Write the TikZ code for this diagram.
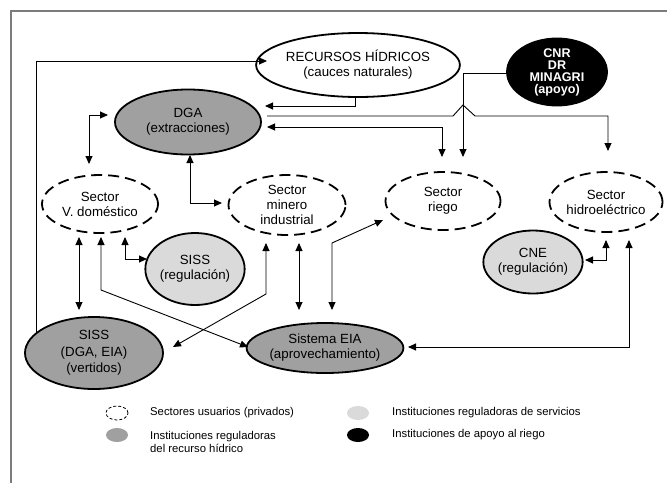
\documentclass[tikz,border=0pt]{standalone}
\usepackage{fontspec}
\setmainfont{Liberation Sans}
\usetikzlibrary{shapes.geometric,arrows.meta}
\definecolor{dgray}{HTML}{A0A0A0}
\definecolor{lgray}{HTML}{DADADA}
\definecolor{framegray}{HTML}{7C7C7C}
\begin{document}
\begin{tikzpicture}[x=1pt,y=-1pt,
  base/.style={ellipse, inner sep=0pt, align=center, font=\fontsize{13.3}{15}\selectfont},
  solidell/.style={base, draw, line width=1.8pt},
  sector/.style={base, draw, line width=1.8pt, dash pattern=on 11pt off 6pt, fill=white},
  regul/.style={solidell, fill=dgray},
  servic/.style={solidell, fill=lgray},
  support/.style={solidell, fill=black, text=white, font=\fontsize{12.6}{12}\selectfont\bfseries},
  conn/.style={line width=0.9pt},
  onearr/.style={conn, -{Triangle[length=8pt,width=7pt]}},
  twoarr/.style={conn, {Triangle[length=8pt,width=7pt]}-{Triangle[length=8pt,width=7pt]}},
  legell/.style={ellipse, inner sep=0pt, minimum width=22pt, minimum height=14pt},
  legtxt/.style={anchor=west, align=left, inner sep=0pt, font=\fontsize{11.3}{13}\selectfont}
]
\useasboundingbox (0,0) rectangle (667,483);
% frame
\draw[framegray, line width=1.5pt] (11,483) -- (11,11) -- (667,11);

% nodes
\node[solidell, fill=white, minimum width=174pt, minimum height=64pt] (rec) at (358,65) {RECURSOS HÍDRICOS\\(cauces naturales)};
\node[regul, minimum width=146pt, minimum height=65pt] (dga) at (188,122) {DGA\\(extracciones)};
\node[support, minimum width=100pt, minimum height=58pt] (cnr) at (557,72) {CNR\\DR\\MINAGRI\\(apoyo)};
\node[sector, minimum width=116pt, minimum height=58pt] (vd) at (100,204) {Sector\\V. doméstico};
\node[sector, minimum width=117pt, minimum height=60pt] (mi) at (287,205) {Sector\\minero\\industrial};
\node[sector, minimum width=115pt, minimum height=58pt] (ri) at (443,201) {Sector\\riego};
\node[sector, minimum width=113pt, minimum height=60pt] (hi) at (606,202) {Sector\\hidroeléctrico};
\node[servic, minimum width=89pt, minimum height=72pt] (sr) at (195,269) {SISS\\(regulación)};
\node[servic, minimum width=92pt, minimum height=63pt] (cne) at (533,262) {CNE\\(regulación)};
\node[regul, minimum width=138pt, minimum height=72pt, font=\fontsize{13.3}{16.5}\selectfont] (sv) at (94,353) {SISS\\(DGA, EIA)\\(vertidos)};
\node[regul, minimum width=146pt, minimum height=50pt] (eia) at (325,348) {Sistema EIA\\(aprovechamiento)};

% connector end points
\coordinate (svTop) at (36,333);
\coordinate (recIn) at (267,61);
\coordinate (recBot) at (355,96);
\coordinate (dgaA) at (265,106);
\coordinate (dgaB) at (267,116);
\coordinate (dgaC) at (267,127);
\coordinate (hiTop) at (608,151);
\coordinate (riTopA) at (442,157);
\coordinate (riTopB) at (463,157);
\coordinate (cnrL) at (507,73);
\coordinate (dgaL) at (108,115);
\coordinate (vdTop) at (89,164);
\coordinate (dgaBot) at (190,155);
\coordinate (miL) at (222,203);
\coordinate (vdB1) at (79,237);
\coordinate (svT1) at (79,310);
\coordinate (vdB2) at (101,237);
\coordinate (eiaL) at (248,347);
\coordinate (vdB3) at (125,237);
\coordinate (srL) at (147,259);
\coordinate (miB1) at (266,243);
\coordinate (svR) at (173,347);
\coordinate (miB2) at (299,243);
\coordinate (eiaT1) at (299,310);
\coordinate (riBL) at (383,220);
\coordinate (eiaT2) at (332,310);
\coordinate (hiB1) at (606,240);
\coordinate (cneR) at (585,260);
\coordinate (hiB2) at (629,240);
\coordinate (eiaR) at (408,347);

% connectors
\draw[onearr] (svTop) |- (recIn);
\draw[onearr] (recBot) |- (dgaA);
\draw[onearr] (dgaB) -- (453,116) -- (463,105) -- (475,116) -| (hiTop);
\draw[twoarr] (dgaC) -| (riTopA);
\draw[onearr] (cnrL) -| (riTopB);
\draw[twoarr] (dgaL) -| (vdTop);
\draw[twoarr] (dgaBot) |- (miL);
\draw[twoarr] (vdB1) -- (svT1);
\draw[twoarr] (vdB2) -- (101,290) -- (eiaL);
\draw[twoarr] (vdB3) |- (srL);
\draw[twoarr] (miB1) -- (266,294) -- (svR);
\draw[twoarr] (miB2) -- (eiaT1);
\draw[twoarr] (riBL) -- (332,243) -- (eiaT2);
\draw[twoarr] (hiB1) |- (cneR);
\draw[twoarr] (hiB2) |- (eiaR);

% legend
\node[legell, draw, line width=0.8pt, dash pattern=on 3pt off 2pt] (l1) at (117,413) {};
\node[legtxt] (l1t) at (150,413) {Sectores usuarios (privados)};
\node[legell, fill=dgray] (l2) at (117,435) {};
\node[legtxt] (l2t) at (150,441.5) {Instituciones reguladoras\\del recurso hídrico};
\node[legell, fill=lgray] (l3) at (358,413) {};
\node[legtxt] (l3t) at (392,413) {Instituciones reguladoras de servicios};
\node[legell, fill=black] (l4) at (358,435) {};
\node[legtxt] (l4t) at (392,435) {Instituciones de apoyo al riego};
\end{tikzpicture}
\end{document}
